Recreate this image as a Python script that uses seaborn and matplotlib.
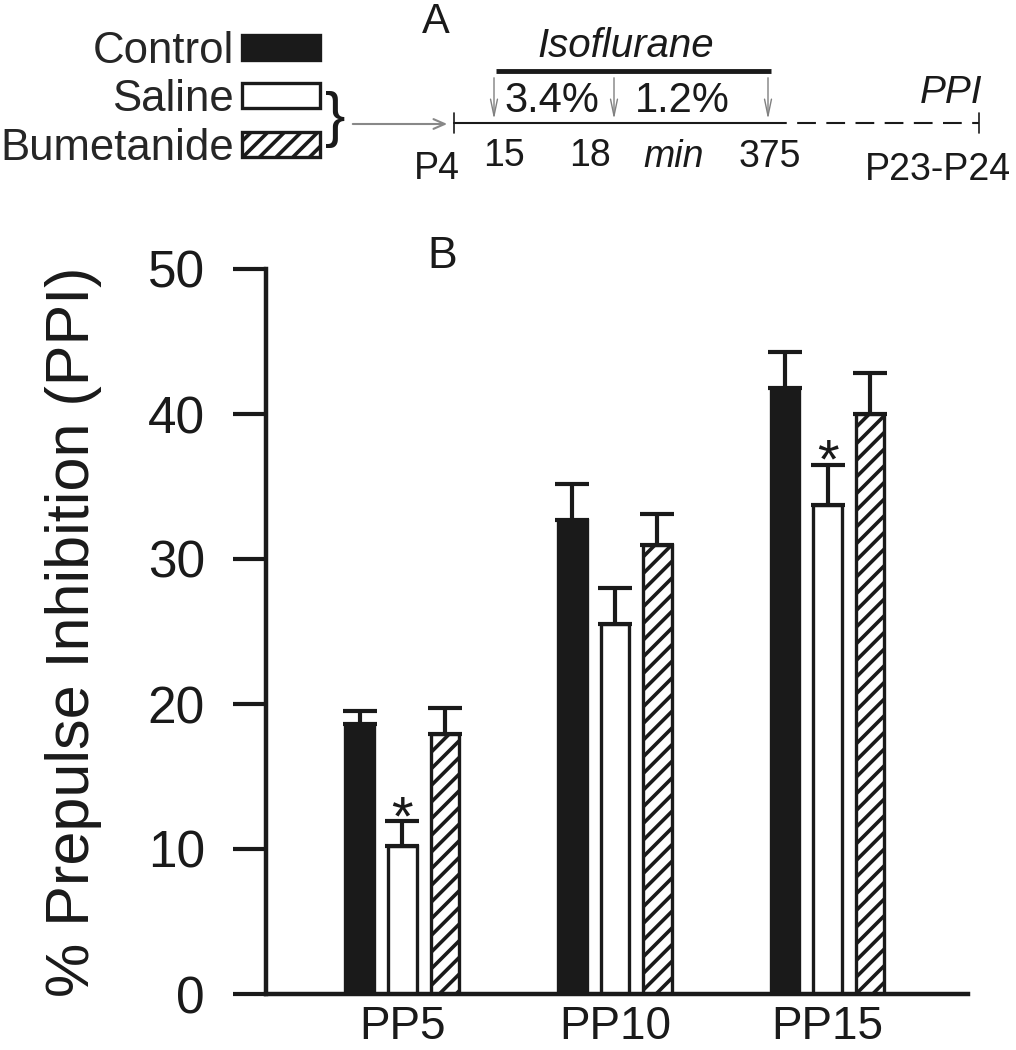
import matplotlib
matplotlib.use("Agg")

import matplotlib.pyplot as plt
import numpy as np
import pandas as pd
import seaborn as sns

# Panel B data (% PPI, mean and SEM)
conditions = ["PP5", "PP10", "PP15"]
groups = ["Control", "Saline", "Bumetanide"]
control_mean = [18.6, 32.7, 41.8]
control_sem = [0.9, 2.5, 2.5]
saline_mean = [10.2, 25.5, 33.7]
saline_sem = [1.7, 2.5, 2.8]
bumetanide_mean = [17.9, 31.0, 40.0]
bumetanide_sem = [1.8, 2.1, 2.8]
saline_signif = [True, False, True]
y_ticks = [0, 10, 20, 30, 40, 50]

INK = "#1a1a1a"
W, H = 1016, 1050

sns.set_style("ticks")
plt.rcParams["font.family"] = ["Liberation Sans", "DejaVu Sans"]
plt.rcParams["hatch.linewidth"] = 2.6

df = pd.DataFrame({
    "condition": conditions * 3,
    "group": np.repeat(groups, len(conditions)),
    "value": control_mean + saline_mean + bumetanide_mean,
})
sems = {"Control": control_sem, "Saline": saline_sem, "Bumetanide": bumetanide_sem}

fig = plt.figure(figsize=(W / 100, H / 100), dpi=100)
ax = fig.add_axes([266 / W, 56 / H, 702 / W, 725 / H])

sns.barplot(data=df, x="condition", y="value", hue="group", order=conditions, hue_order=groups,
            palette={"Control": INK, "Saline": "white", "Bumetanide": "white"}, saturation=1,
            width=0.6, gap=0.32, errorbar=None, edgecolor=INK, linewidth=2.4, legend=False, ax=ax)

for cont, g in zip(ax.containers, groups):
    cont.set_label(g)
    if g == "Bumetanide":
        for p in cont:
            p.set_hatch("//")
    xs = [p.get_x() + p.get_width() / 2 for p in cont]
    tops = [p.get_height() for p in cont]
    ax.errorbar(xs, tops, yerr=[np.zeros(len(xs)), sems[g]], fmt="none", ecolor=INK,
                elinewidth=3, capsize=12, capthick=3)
    if g == "Saline":
        for x, t, e, s in zip(xs, tops, sems[g], saline_signif):
            if s:
                ax.annotate("*", xy=(x, t + e), xytext=(0, -9), textcoords="offset points",
                            ha="center", va="baseline", fontsize=40, color=INK)

ax.set_xlim(-0.642, 2.661)
ax.set_ylim(0, 50)
ax.set_yticks(y_ticks)
sns.despine(ax=ax)
for s in ["left", "bottom"]:
    ax.spines[s].set_linewidth(3.2)
    ax.spines[s].set_color(INK)
ax.tick_params(axis="y", length=24, width=3, pad=20, labelsize=37, color=INK, labelcolor=INK)
ax.tick_params(axis="x", length=0, pad=8, labelsize=33, labelcolor=INK)
ax.set_xlabel("")
ax.set_ylabel("% Prepulse Inhibition (PPI)", fontsize=44, color=INK)
ax.yaxis.set_label_coords(-0.234, 0.5)

fig.legend(handles=list(ax.containers), labels=groups, loc="upper right",
           bbox_to_anchor=(320 / W, 1 - 31 / H), frameon=False, markerfirst=False,
           fontsize=31.5, handlelength=1.78, handleheight=0.5, handletextpad=0.18,
           labelspacing=0.17, borderpad=0, borderaxespad=0)

# Panel A: treatment timeline, drawn in pixel coordinates
ov = fig.add_axes([0, 0, 1, 1])
ov.set_xlim(0, W)
ov.set_ylim(H, 0)
ov.axis("off")

ov.text(436, 22, "A", fontsize=30, ha="center", va="center", color=INK)
ov.text(442, 257, "B", fontsize=32, ha="center", va="center", color=INK)
ov.text(335, 120, "}", fontsize=44, ha="center", va="center", color=INK)
ov.annotate("", xy=(450, 124), xytext=(350, 124),
            arrowprops=dict(arrowstyle="->,head_length=0.8,head_width=0.35", color="#888888", lw=1.5))

ov.text(626, 46, "Isoflurane", fontsize=29, style="italic", ha="center", va="center", color=INK)
ov.plot([496, 771], [71, 71], lw=3.5, color=INK, solid_capstyle="butt")
for x in [494, 614, 768]:
    ov.annotate("", xy=(x, 122), xytext=(x, 75),
                arrowprops=dict(arrowstyle="->,head_length=1.2,head_width=0.25", color="#808080", lw=1))
ov.text(552, 101, "3.4%", fontsize=30, ha="center", va="center", color=INK)
ov.text(682, 101, "1.2%", fontsize=30, ha="center", va="center", color=INK)
ov.text(951, 93, "PPI", fontsize=28, style="italic", ha="center", va="center", color=INK)

ov.plot([454, 768], [123, 123], lw=1.5, color=INK)
ov.plot([768, 979], [123, 123], lw=1.5, color=INK, ls=(0, (9, 5)))
for x in [454, 979]:
    ov.plot([x, x], [113, 133], lw=1.2, color=INK)

for txt, x, y, st in [("P4", 437, 169, "normal"), ("15", 504, 156, "normal"), ("18", 590, 156, "normal"),
                      ("min", 674, 157, "italic"), ("375", 770, 157, "normal"), ("P23-P24", 938, 170, "normal")]:
    ov.text(x, y, txt, fontsize=27, style=st, ha="center", va="center", color=INK)

fig.savefig("out.png", dpi=100)
